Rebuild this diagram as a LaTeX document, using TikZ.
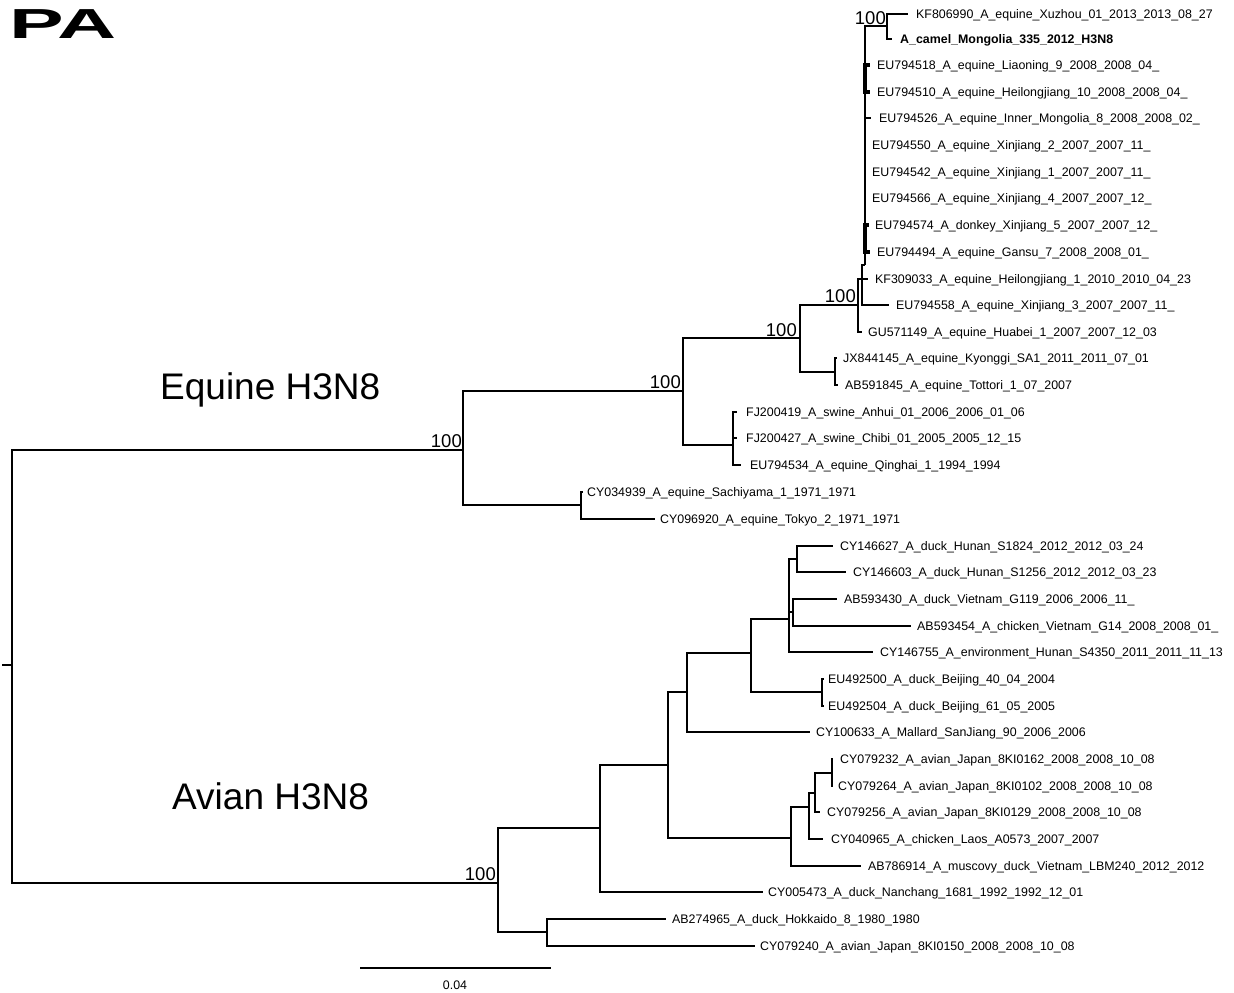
\documentclass[tikz,border=0pt]{standalone}
\usepackage{fontspec}
\setmainfont{Liberation Sans}

\begin{document}
\begin{tikzpicture}[x=1pt,y=-1pt,
	branch/.style={line width=1.9pt},
	zerobranch/.style={line width=3.8pt},
	leaf/.style={anchor=base west,inner sep=0pt,font=\fontsize{12.4}{14}\selectfont},
	boot/.style={anchor=base east,inner sep=0pt,font=\fontsize{18.5}{20}\selectfont},
	clade/.style={anchor=base west,inner sep=0pt,font=\fontsize{37}{40}\selectfont}]
	
	\useasboundingbox (0,0) rectangle (1234,993);
	
	%----------------------------
	% Panel letter
	%----------------------------
	\node[anchor=base west,inner sep=0pt,font=\fontsize{42}{44}\selectfont\bfseries] (panel) at (9,38) {\scalebox{1.95}[1]{PA}};
	
	%----------------------------
	% Leaves: tip of branch and label
	%----------------------------
	\foreach \n/\x/\y/\lx/\t in {
		kfxuzhou/908/14/916/{KF806990\_A\_equine\_Xuzhou\_01\_2013\_2013\_08\_27},
		euliaoning/870/65/877/{EU794518\_A\_equine\_Liaoning\_9\_2008\_2008\_04\_},
		euheilong/870/92/877/{EU794510\_A\_equine\_Heilongjiang\_10\_2008\_2008\_04\_},
		euinner/871/118/879/{EU794526\_A\_equine\_Inner\_Mongolia\_8\_2008\_2008\_02\_},
		euxjtwo/865/145/872/{EU794550\_A\_equine\_Xinjiang\_2\_2007\_2007\_11\_},
		euxjone/865/172/872/{EU794542\_A\_equine\_Xinjiang\_1\_2007\_2007\_11\_},
		euxjfour/865/198/872/{EU794566\_A\_equine\_Xinjiang\_4\_2007\_2007\_12\_},
		eudonkey/869/225/875/{EU794574\_A\_donkey\_Xinjiang\_5\_2007\_2007\_12\_},
		eugansu/870/252/877/{EU794494\_A\_equine\_Gansu\_7\_2008\_2008\_01\_},
		kfheilong/868/279/875/{KF309033\_A\_equine\_Heilongjiang\_1\_2010\_2010\_04\_23},
		euxjthree/889/305/896/{EU794558\_A\_equine\_Xinjiang\_3\_2007\_2007\_11\_},
		guhuabei/862/332/868/{GU571149\_A\_equine\_Huabei\_1\_2007\_2007\_12\_03},
		jxkyonggi/837/358/843/{JX844145\_A\_equine\_Kyonggi\_SA1\_2011\_2011\_07\_01},
		abtottori/838/385/845/{AB591845\_A\_equine\_Tottori\_1\_07\_2007},
		fjanhui/737/412/746/{FJ200419\_A\_swine\_Anhui\_01\_2006\_2006\_01\_06},
		fjchibi/737/438/746/{FJ200427\_A\_swine\_Chibi\_01\_2005\_2005\_12\_15},
		euqinghai/741/465/750/{EU794534\_A\_equine\_Qinghai\_1\_1994\_1994},
		cysachiyama/583/492/587/{CY034939\_A\_equine\_Sachiyama\_1\_1971\_1971},
		cytokyo/655/519/660/{CY096920\_A\_equine\_Tokyo\_2\_1971\_1971},
		cyhunanone/833/546/840/{CY146627\_A\_duck\_Hunan\_S1824\_2012\_2012\_03\_24},
		cyhunantwo/846/572/853/{CY146603\_A\_duck\_Hunan\_S1256\_2012\_2012\_03\_23},
		abvnduck/837/599/844/{AB593430\_A\_duck\_Vietnam\_G119\_2006\_2006\_11\_},
		abvnchicken/911/626/917/{AB593454\_A\_chicken\_Vietnam\_G14\_2008\_2008\_01\_},
		cyenvhunan/873/652/880/{CY146755\_A\_environment\_Hunan\_S4350\_2011\_2011\_11\_13},
		eubjone/824/679/828/{EU492500\_A\_duck\_Beijing\_40\_04\_2004},
		eubjtwo/824/706/828/{EU492504\_A\_duck\_Beijing\_61\_05\_2005},
		cymallard/810/732/816/{CY100633\_A\_Mallard\_SanJiang\_90\_2006\_2006},
		cyjpone/833/759/840/{CY079232\_A\_avian\_Japan\_8KI0162\_2008\_2008\_10\_08},
		cyjptwo/833/786/838/{CY079264\_A\_avian\_Japan\_8KI0102\_2008\_2008\_10\_08},
		cyjpthree/820/812/827/{CY079256\_A\_avian\_Japan\_8KI0129\_2008\_2008\_10\_08},
		cylaos/823/839/831/{CY040965\_A\_chicken\_Laos\_A0573\_2007\_2007},
		abmuscovy/861/866/868/{AB786914\_A\_muscovy\_duck\_Vietnam\_LBM240\_2012\_2012},
		cynanchang/763/892/768/{CY005473\_A\_duck\_Nanchang\_1681\_1992\_1992\_12\_01},
		abhokkaido/666/919/672/{AB274965\_A\_duck\_Hokkaido\_8\_1980\_1980},
		cyjpfour/755/946/760/{CY079240\_A\_avian\_Japan\_8KI0150\_2008\_2008\_10\_08}}
	{
		\coordinate (\n) at (\x,\y);
		\node[leaf] (\n-lab) at (\lx,\y+4.5) {\t};
	}
	
	% the camel strain, in bold
	\coordinate (camel) at (892,39);
	\node[leaf,font=\fontsize{12.4}{14}\selectfont\bfseries] (camel-lab) at (900,43.5) {A\_camel\_Mongolia\_335\_2012\_H3N8};
	
	%----------------------------
	% Inner nodes of the tree
	%----------------------------
	\coordinate (root) at (12,665);
	\coordinate (rootstub) at (2,665);
	% equine
	\coordinate (eqtop) at (887,26);
	\coordinate (eqpoly) at (865,265);
	\coordinate (eqzeroa) at (865,78);
	\coordinate (eqzerob) at (865,238);
	\coordinate (eqsub) at (862,279);
	\coordinate (eqrecent) at (858,305);
	\coordinate (eqjapkor) at (835,372);
	\coordinate (eqasia) at (800,338);
	\coordinate (eqswine) at (733,445);
	\coordinate (eqmodern) at (683,391);
	\coordinate (eqold) at (581,505);
	\coordinate (equine) at (463,450);
	% avian
	\coordinate (avhunan) at (797,559);
	\coordinate (avvietnam) at (793,612);
	\coordinate (avsouth) at (789,619);
	\coordinate (avbeijing) at (822,692);
	\coordinate (avchina) at (751,653);
	\coordinate (avmallard) at (687,692);
	\coordinate (avjpa) at (832,773);
	\coordinate (avjpb) at (815,793);
	\coordinate (avjpc) at (809,807);
	\coordinate (avjapan) at (791,838);
	\coordinate (aveurasia) at (668,765);
	\coordinate (avnanchang) at (600,828);
	\coordinate (avhokkaido) at (547,932);
	\coordinate (avian) at (498,883);
	
	%----------------------------
	% Branches
	%----------------------------
	\draw[branch] (rootstub) -- (root);
	\foreach \p/\c in {root/equine, root/avian,
		equine/eqmodern, equine/eqold,
		eqold/cysachiyama, eqold/cytokyo,
		eqmodern/eqasia, eqmodern/eqswine,
		eqswine/fjanhui, eqswine/fjchibi, eqswine/euqinghai,
		eqasia/eqrecent, eqasia/eqjapkor,
		eqjapkor/jxkyonggi, eqjapkor/abtottori,
		eqrecent/eqsub, eqrecent/guhuabei,
		eqsub/eqpoly, eqsub/kfheilong, eqsub/euxjthree,
		eqpoly/eqtop, eqpoly/eqzeroa, eqpoly/euinner, eqpoly/euxjtwo,
		eqpoly/euxjone, eqpoly/euxjfour, eqpoly/eqzerob,
		eqtop/kfxuzhou, eqtop/camel,
		avian/avnanchang, avian/avhokkaido,
		avhokkaido/abhokkaido, avhokkaido/cyjpfour,
		avnanchang/aveurasia, avnanchang/cynanchang,
		aveurasia/avmallard, aveurasia/avjapan,
		avmallard/avchina, avmallard/cymallard,
		avchina/avsouth, avchina/avbeijing,
		avbeijing/eubjone, avbeijing/eubjtwo,
		avsouth/avhunan, avsouth/avvietnam, avsouth/cyenvhunan,
		avhunan/cyhunanone, avhunan/cyhunantwo,
		avvietnam/abvnduck, avvietnam/abvnchicken,
		avjapan/avjpc, avjapan/abmuscovy,
		avjpc/avjpb, avjpc/cylaos,
		avjpb/avjpa, avjpb/cyjpthree,
		avjpa/cyjpone, avjpa/cyjptwo}
	\draw[branch] (\p) |- (\c);
	
	% zero-length groups
	\foreach \p/\c in {eqzeroa/euliaoning, eqzeroa/euheilong,
		eqzerob/eudonkey, eqzerob/eugansu}
	\draw[zerobranch] (\p) |- (\c);
	
	%----------------------------
	% Bootstrap values and clade names
	%----------------------------
	\node[boot] (bsequine) at (462,447) {100};
	\node[boot] (bsmodern) at (681,388) {100};
	\node[boot] (bsasia) at (797,336) {100};
	\node[boot] (bsrecent) at (856,302) {100};
	\node[boot] (bstop) at (886,24) {100};
	\node[boot] (bsavian) at (496,880) {100};
	
	\node[clade] (eqname) at (160,399) {Equine H3N8};
	\node[clade] (avname) at (172,809) {Avian H3N8};
	
	%----------------------------
	% Scale bar
	%----------------------------
	\coordinate (sbleft) at (360,968);
	\coordinate (sbright) at (551,968);
	\draw[line width=1.2pt] (sbleft) -- (sbright);
	\node[anchor=base,inner sep=0pt,font=\fontsize{12.4}{14}\selectfont] (sblab) at (455,989) {0.04};
	
\end{tikzpicture}
\end{document}
